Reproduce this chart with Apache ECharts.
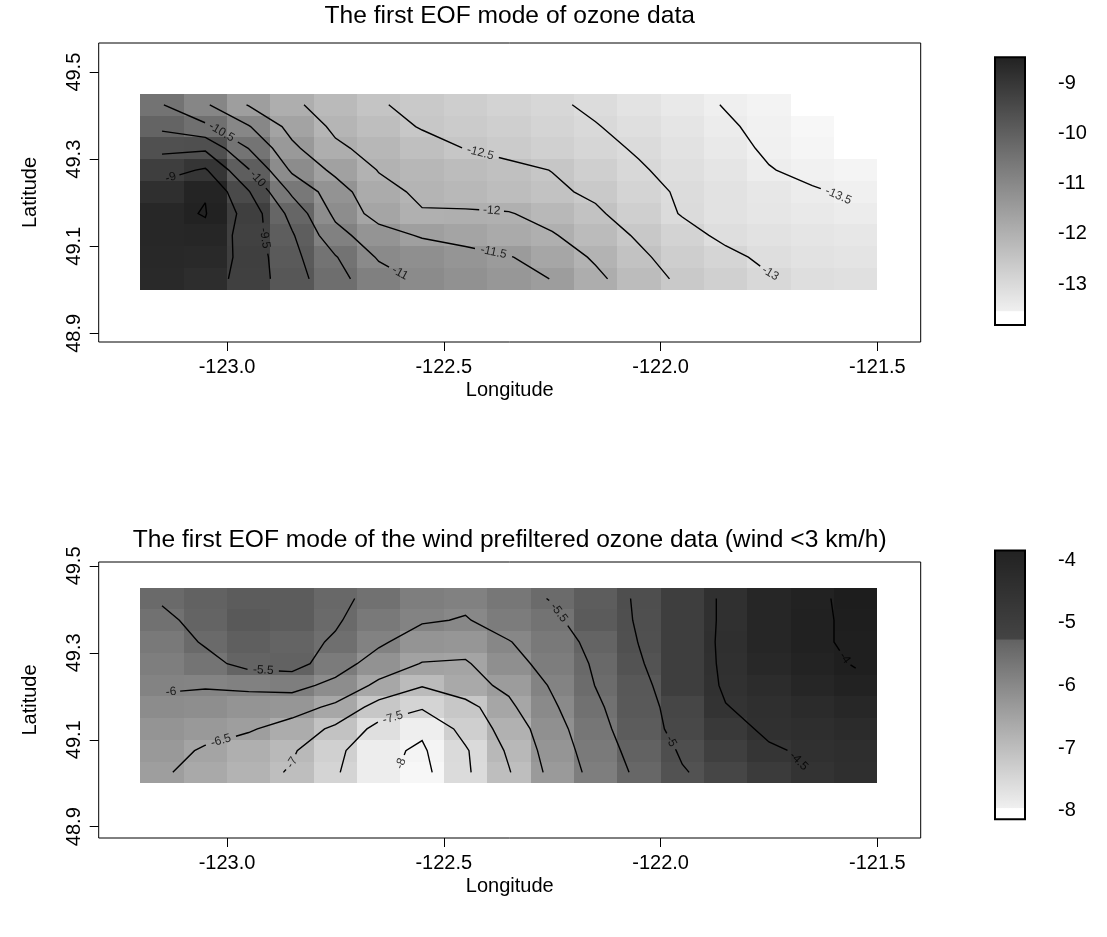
<!DOCTYPE html>
<html><head><meta charset="utf-8">
<script src="https://cdn.jsdelivr.net/npm/echarts@6/dist/echarts.min.js"></script>
<style>html,body{margin:0;padding:0;background:#fff}#c{width:1107px;height:937px}</style>
</head><body><div id="c"></div>
<script>
// ---------------- data ----------------
const lonCenters = [-123.15,-123.05,-122.95,-122.85,-122.75,-122.65,-122.55,-122.45,-122.35,-122.25,-122.15,-122.05,-121.95,-121.85,-121.75,-121.65,-121.55];
const latCenters = [49.425,49.375,49.325,49.275,49.225,49.175,49.125,49.075,49.025];
const ozoneEOF = [
[-10.48,-10.94,-11.53,-11.92,-12.21,-12.47,-12.60,-12.71,-12.83,-12.94,-13.07,-13.22,-13.37,-13.52,-13.66,null,null],
[-10.10,-10.41,-10.97,-11.66,-12.09,-12.33,-12.53,-12.64,-12.75,-12.87,-12.98,-13.13,-13.29,-13.45,-13.60,-13.80,null],
[-9.62,-9.58,-10.51,-11.40,-11.92,-12.15,-12.34,-12.51,-12.64,-12.76,-12.90,-13.04,-13.20,-13.37,-13.56,-13.74,null],
[-9.17,-8.95,-9.97,-11.08,-11.61,-12.02,-12.14,-12.26,-12.38,-12.51,-12.73,-12.96,-13.12,-13.28,-13.48,-13.60,-13.70],
[-8.80,-8.52,-9.47,-10.59,-11.27,-11.86,-12.08,-12.18,-12.30,-12.42,-12.58,-12.85,-13.06,-13.20,-13.33,-13.46,-13.56],
[-8.60,-8.48,-9.20,-10.16,-11.11,-11.70,-11.97,-11.95,-11.97,-12.18,-12.43,-12.73,-13.03,-13.20,-13.30,-13.38,-13.45],
[-8.60,-8.59,-9.25,-9.95,-10.83,-11.29,-11.55,-11.69,-11.83,-11.96,-12.25,-12.56,-12.84,-13.10,-13.20,-13.27,-13.33],
[-8.62,-8.65,-9.20,-9.86,-10.47,-11.05,-11.17,-11.32,-11.47,-11.74,-12.06,-12.41,-12.72,-12.89,-13.10,-13.20,-13.25],
[-8.65,-8.75,-9.22,-9.78,-10.34,-10.80,-11.07,-11.22,-11.36,-11.51,-11.90,-12.26,-12.60,-12.77,-12.96,-13.10,-13.15]
];
const windEOF = [
[-5.45,-5.30,-5.20,-5.20,-5.42,-5.60,-5.85,-5.90,-5.70,-5.47,-5.21,-4.95,-4.72,-4.44,-4.27,-4.09,-3.88],
[-5.60,-5.35,-5.15,-5.20,-5.45,-5.75,-5.95,-6.03,-5.80,-5.62,-5.18,-4.97,-4.72,-4.44,-4.25,-4.05,-3.95],
[-5.75,-5.45,-5.25,-5.35,-5.55,-5.92,-6.25,-6.30,-6.02,-5.75,-5.35,-4.99,-4.72,-4.43,-4.25,-4.04,-3.96],
[-5.85,-5.65,-5.35,-5.30,-5.78,-6.22,-6.52,-6.55,-6.17,-5.83,-5.44,-5.04,-4.72,-4.44,-4.30,-4.15,-3.97],
[-5.95,-5.97,-5.90,-5.85,-6.13,-6.61,-6.97,-6.65,-6.41,-5.95,-5.49,-5.13,-4.72,-4.46,-4.38,-4.25,-4.12],
[-6.10,-6.15,-6.25,-6.30,-6.60,-7.20,-7.45,-7.20,-6.59,-6.07,-5.59,-5.15,-4.84,-4.51,-4.42,-4.35,-4.28],
[-6.25,-6.35,-6.45,-6.70,-7.10,-7.65,-7.93,-7.34,-6.80,-6.19,-5.68,-5.20,-4.86,-4.62,-4.44,-4.40,-4.35],
[-6.35,-6.55,-6.75,-6.95,-7.37,-7.90,-8.06,-7.55,-6.93,-6.28,-5.76,-5.31,-4.95,-4.74,-4.54,-4.45,-4.40],
[-6.45,-6.65,-6.84,-7.04,-7.45,-7.90,-8.13,-7.57,-7.03,-6.36,-5.84,-5.40,-5.03,-4.84,-4.66,-4.49,-4.42]
];
const ozoneLevels = [-13.5,-13,-12.5,-12,-11.5,-11,-10.5,-10,-9.5,-9,-8.5];
const windLevels = [-8,-7.5,-7,-6.5,-6,-5.5,-5,-4.5,-4];
const ozoneLegendTicks = [-13,-12,-11,-10,-9];
const windLegendTicks = [-8,-7,-6,-5,-4];
const ozoneRange = [-13.817, -8.482];
const windRange = [-8.137, -3.848];
const lonTicks = [-123.0,-122.5,-122.0,-121.5];
const latTicks = [48.9,49.1,49.3,49.5];
const titles = ['The first EOF mode of ozone data','The first EOF mode of the wind prefiltered ozone data (wind <3 km/h)'];

// ---------------- layout / style ----------------
const FONT = '"Liberation Sans", Arial, Helvetica, sans-serif';
const LAYOUT = {
  plotLeft: 98.7, plotWidth: 822,
  plotTops: [43, 562], plotHeights: [299, 276],
  lonRange: [-123.296, -121.4], latRanges: [[48.88, 49.567], [48.874, 49.509]],
  legendLeft: 995, legendWidth: 30, legendTops: [57.3, 550.5], legendHeights: [267.7, 268.8],
  titleCenters: [16, 540],
  titleFont: 24.6, axisFont: 20, labelFont: 12,
  ozoneAnchors: [[-9,-123.17,49.26],[-9.5,-122.921,49.117],[-10,-122.936,49.249],[-10.5,-123.017,49.355],[-11,-122.58,49.0],[-11.5,-122.386,49.082],[-12,-122.39,49.178],[-12.5,-122.417,49.309],[-13,-121.70,48.99],[-13.5,-121.52,49.18]],
  windAnchors: [[-5.5,-122.917,49.252],[-6,-123.17,49.205],[-6.5,-123.013,49.094],[-7,-122.844,49.044],[-7.5,-122.617,49.149],[-8,-122.59,49.042],[-5.5,-122.238,49.39],[-5,-121.995,49.086],[-4.5,-121.678,49.039],[-4,-121.578,49.286]]
};
const g = n => { n = Math.max(0, Math.min(255, Math.round(n))); return 'rgb(' + n + ',' + n + ',' + n + ')'; };
function ramp(stops, v) {
  if (v >= stops[0][0]) return stops[0][1];
  for (let k = 1; k < stops.length; k++) {
    if (v >= stops[k][0]) { const [a, ga] = stops[k-1], [b, gb] = stops[k]; return ga + (gb - ga) * (a - v) / (a - b); }
  }
  return stops[stops.length-1][1];
}
const ozoneCellStops = [[ozoneRange[1],34],[-13.55,240],[ozoneRange[0],247]];
const windCellStops = [[windRange[1],28],[-4.27,38],[-4.44,48],[-4.72,62],[-4.95,78],[-5.2,92],[-5.45,106],[-5.85,126],[-7.96,240],[windRange[0],247]];
const ozoneCellColor = v => g(ramp(ozoneCellStops, v));
const windCellColor = v => g(ramp(windCellStops, v));
const ozoneBarColor = v => v < -13.55 ? '#ffffff' : g(ramp([[ozoneRange[1],34],[-13.55,240]], v));
const windBarColor = v => v < -7.96 ? '#ffffff' : (v >= -5.27 ? g(ramp([[windRange[1],34],[-5.27,68]], v)) : g(ramp([[-5.27,98],[-7.96,240]], v)));

// ---------------- helpers ----------------
const dLon = lonCenters[1] - lonCenters[0];
const dLat = latCenters[0] - latCenters[1];
function cellData(Z) {
  const out = [];
  Z.forEach((row, j) => row.forEach((v, i) => { if (v != null) out.push([lonCenters[i], latCenters[j], v]); }));
  return out;
}
function contourLines(Z, xs, ys, L) {
  const nr = Z.length, nc = Z[0].length, pts = {}, adj = {}, segs = [];
  function ep(key, i1, j1, i2, j2) {
    if (!pts[key]) { const v1 = Z[j1][i1], v2 = Z[j2][i2], t = (L - v1) / (v2 - v1);
      pts[key] = [xs[i1] + t * (xs[i2] - xs[i1]), ys[j1] + t * (ys[j2] - ys[j1])]; }
    return key;
  }
  for (let j = 0; j < nr - 1; j++) for (let i = 0; i < nc - 1; i++) {
    const a = Z[j][i], b = Z[j][i+1], c = Z[j+1][i+1], d = Z[j+1][i];
    if (a == null || b == null || c == null || d == null) continue;
    const A = a > L, B = b > L, C = c > L, D = d > L, e = {};
    if (A !== B) e.top = ep('h'+i+','+j, i, j, i+1, j);
    if (B !== C) e.right = ep('v'+(i+1)+','+j, i+1, j, i+1, j+1);
    if (D !== C) e.bottom = ep('h'+i+','+(j+1), i, j+1, i+1, j+1);
    if (A !== D) e.left = ep('v'+i+','+j, i, j, i, j+1);
    const ks = Object.keys(e);
    if (ks.length === 2) segs.push([e[ks[0]], e[ks[1]]]);
    else if (ks.length === 4) {
      const ctr = (a + b + c + d) / 4 > L;
      if (ctr === A) { segs.push([e.top, e.right]); segs.push([e.bottom, e.left]); }
      else { segs.push([e.left, e.top]); segs.push([e.right, e.bottom]); }
    }
  }
  segs.forEach((s, idx) => s.forEach(k => (adj[k] = adj[k] || []).push(idx)));
  const used = segs.map(() => false), lines = [];
  function walk(k, s) {
    const keys = [k];
    while (s != null && !used[s]) {
      used[s] = true;
      const nk = segs[s][0] === k ? segs[s][1] : segs[s][0];
      keys.push(nk); k = nk;
      s = (adj[k] || []).find(x => !used[x]);
    }
    lines.push(keys.map(kk => pts[kk]));
  }
  Object.keys(adj).forEach(k => { if (adj[k].length === 1 && !used[adj[k][0]]) walk(k, adj[k][0]); });
  segs.forEach((s, idx) => { if (!used[idx]) walk(s[0], idx); });
  return lines;
}
function arcInfo(p) { const S = [0]; for (let k = 1; k < p.px.length; k++) S.push(S[k-1] + Math.hypot(p.px[k][0]-p.px[k-1][0], p.px[k][1]-p.px[k-1][1])); return S; }
function pointAt(p, S, s) {
  let k = 0; while (k < S.length - 2 && S[k+1] < s) k++;
  const seg = S[k+1] - S[k], t = seg > 0 ? Math.max(0, Math.min(1, (s - S[k]) / seg)) : 0;
  const lerp = (P, Q) => [P[0] + t * (Q[0] - P[0]), P[1] + t * (Q[1] - P[1])];
  return { px: lerp(p.px[k], p.px[k+1]), data: lerp(p.data[k], p.data[k+1]) };
}
function slice(p, S, a, b) {
  const tot = S[S.length-1]; a = Math.max(0, a); b = Math.min(tot, b);
  if (b - a < 0.8) return null;
  const A = pointAt(p, S, a), B = pointAt(p, S, b), px = [A.px], data = [A.data];
  for (let k = 0; k < S.length; k++) if (S[k] > a && S[k] < b) { px.push(p.px[k]); data.push(p.data[k]); }
  px.push(B.px); data.push(B.data);
  return { level: p.level, px, data };
}
function buildContours(chart, gi, Z, levels, anchors) {
  let polys = [];
  levels.forEach(L => contourLines(Z, lonCenters, latCenters, L).forEach(d => polys.push({ level: L, data: d })));
  const toPx = q => chart.convertToPixel({ gridIndex: gi }, q);
  polys.forEach(p => p.px = p.data.map(toPx));
  const labels = [];
  anchors.forEach(([L, lon, lat]) => {
    const a = toPx([lon, lat]); let best = null;
    polys.forEach((p, pi) => {
      if (p.level !== L) return;
      for (let k = 0; k < p.px.length - 1; k++) {
        const [x1, y1] = p.px[k], [x2, y2] = p.px[k+1], dx = x2 - x1, dy = y2 - y1, l2 = dx*dx + dy*dy;
        let t = l2 > 0 ? ((a[0]-x1)*dx + (a[1]-y1)*dy) / l2 : 0; t = Math.max(0, Math.min(1, t));
        const dist = Math.hypot(a[0] - (x1 + t*dx), a[1] - (y1 + t*dy));
        if (!best || dist < best.dist) best = { pi, k, t, dist };
      }
    });
    if (!best) return;
    const p = polys[best.pi], S = arcInfo(p), tot = S[S.length-1];
    const text = String(L), w = text.length * LAYOUT.labelFont * 0.55 + 5;
    let s0 = S[best.k] + best.t * (S[best.k+1] - S[best.k]);
    if (tot > w) s0 = Math.max(w/2, Math.min(tot - w/2, s0));
    const pa = pointAt(p, S, s0 - w/2), pb = pointAt(p, S, s0 + w/2), pc = pointAt(p, S, s0);
    let ang = Math.atan2(-(pb.px[1] - pa.px[1]), pb.px[0] - pa.px[0]) * 180 / Math.PI;
    if (ang > 90) ang -= 180; if (ang < -90) ang += 180;
    labels.push({ value: pc.data, label: { formatter: text, rotate: ang } });
    const pieces = [slice(p, S, 0, s0 - w/2), slice(p, S, s0 + w/2, tot)].filter(x => x);
    polys.splice(best.pi, 1, ...pieces);
  });
  return { polys, labels };
}
function barGradient(rng, col) {
  const N = 400, stops = [];
  for (let q = 0; q <= N; q++) { const off = q / N; stops.push({ offset: off, color: col(rng[1] - (rng[1] - rng[0]) * off) }); }
  return { type: 'linear', x: 0, y: 0, x2: 0, y2: 1, global: false, colorStops: stops };
}

// ---------------- option ----------------
const axisText = { color: '#000', fontFamily: FONT, fontSize: LAYOUT.axisFont };
function baseOption() {
  const grids = [], xAxes = [], yAxes = [], series = [], title = [];
  [0, 1].forEach(k => {
    grids.push({ left: LAYOUT.plotLeft, top: LAYOUT.plotTops[k], width: LAYOUT.plotWidth, height: LAYOUT.plotHeights[k],
      show: true, borderColor: '#000', borderWidth: 1, backgroundColor: 'transparent' });
    xAxes.push({ type: 'value', gridIndex: k, min: LAYOUT.lonRange[0], max: LAYOUT.lonRange[1], splitLine: { show: false },
      axisLine: { show: false }, axisTick: { show: true, length: 9, customValues: lonTicks, lineStyle: { color: '#000' } },
      axisLabel: { customValues: lonTicks, formatter: v => v.toFixed(1), margin: 15, ...axisText },
      name: 'Longitude', nameLocation: 'middle', nameGap: 38, nameTextStyle: axisText });
    yAxes.push({ type: 'value', gridIndex: k, min: LAYOUT.latRanges[k][0], max: LAYOUT.latRanges[k][1], splitLine: { show: false },
      axisLine: { show: false }, axisTick: { show: true, length: 9, customValues: latTicks, lineStyle: { color: '#000' } },
      axisLabel: { customValues: latTicks, formatter: v => v.toFixed(1), rotate: 90, margin: 14, ...axisText },
      name: 'Latitude', nameLocation: 'middle', nameGap: 58, nameRotate: 90, nameTextStyle: axisText });
    title.push({ text: titles[k], left: LAYOUT.plotLeft + LAYOUT.plotWidth / 2, top: LAYOUT.titleCenters[k] - LAYOUT.titleFont / 2,
      textAlign: 'center', padding: 0,
      textStyle: { color: '#000', fontFamily: FONT, fontSize: LAYOUT.titleFont, fontWeight: 'normal' } });
  });
  // legends
  [[ozoneRange, ozoneLegendTicks, ozoneBarColor], [windRange, windLegendTicks, windBarColor]].forEach(([rng, ticks, col], k) => {
    const gi = 2 + k;
    grids.push({ left: LAYOUT.legendLeft, top: LAYOUT.legendTops[k], width: LAYOUT.legendWidth, height: LAYOUT.legendHeights[k] });
    xAxes.push({ type: 'value', gridIndex: gi, min: 0, max: 1, show: false });
    yAxes.push({ type: 'value', gridIndex: gi, min: rng[0], max: rng[1], position: 'right', splitLine: { show: false },
      axisLine: { show: false }, axisTick: { show: true, length: 17, customValues: ticks, lineStyle: { color: '#000', width: 1.2 } },
      axisLabel: { customValues: ticks, margin: 33, ...axisText } });
    const fill = barGradient(rng, col);
    series.push({ type: 'custom', xAxisIndex: gi, yAxisIndex: gi, silent: true, data: [[0, rng[0], 1, rng[1]]], z: 5,
      renderItem: (params, api) => {
        const p0 = api.coord([api.value(0), api.value(3)]), p1 = api.coord([api.value(2), api.value(1)]);
        const shape = { x: p0[0], y: p0[1], width: p1[0]-p0[0], height: p1[1]-p0[1] };
        return { type: 'group', children: [
          { type: 'rect', shape, style: { fill } },
          { type: 'rect', shape, style: { fill: 'none', stroke: '#000', lineWidth: 2 } }
        ] };
      } });
  });
  // heat cells
  [[ozoneEOF, ozoneCellColor], [windEOF, windCellColor]].forEach(([Z, col], k) => {
    series.push({ type: 'custom', xAxisIndex: k, yAxisIndex: k, silent: true, data: cellData(Z),
      renderItem: (params, api) => {
        const lon = api.value(0), lat = api.value(1), v = api.value(2);
        const p0 = api.coord([lon - dLon/2, lat + dLat/2]), p1 = api.coord([lon + dLon/2, lat - dLat/2]);
        const x0 = Math.round(p0[0]), y0 = Math.round(p0[1]), x1 = Math.round(p1[0]), y1 = Math.round(p1[1]);
        return { type: 'rect', shape: { x: x0, y: y0, width: x1 - x0, height: y1 - y0 }, style: { fill: col(v) } };
      } });
  });
  return { animation: false, backgroundColor: '#fff', title, grid: grids, xAxis: xAxes, yAxis: yAxes, series };
}

const chart = echarts.init(document.getElementById('c'), null, { renderer: 'canvas' });
const opt = baseOption();
chart.setOption(opt);
[[ozoneEOF, ozoneLevels, LAYOUT.ozoneAnchors], [windEOF, windLevels, LAYOUT.windAnchors]].forEach(([Z, levels, anchors], k) => {
  const { polys, labels } = buildContours(chart, k, Z, levels, anchors);
  opt.series.push({ type: 'lines', coordinateSystem: 'cartesian2d', xAxisIndex: k, yAxisIndex: k, polyline: true, silent: true, z: 4,
    lineStyle: { color: '#000', width: 1.4, opacity: 1 }, data: polys.map(p => ({ coords: p.data })) });
  opt.series.push({ type: 'scatter', xAxisIndex: k, yAxisIndex: k, silent: true, z: 6, symbolSize: 1,
    itemStyle: { color: 'rgba(0,0,0,0)' },
    label: { show: true, position: 'inside', color: '#000', fontFamily: FONT, fontSize: LAYOUT.labelFont },
    data: labels });
});
chart.setOption(opt, true);
</script></body></html>
